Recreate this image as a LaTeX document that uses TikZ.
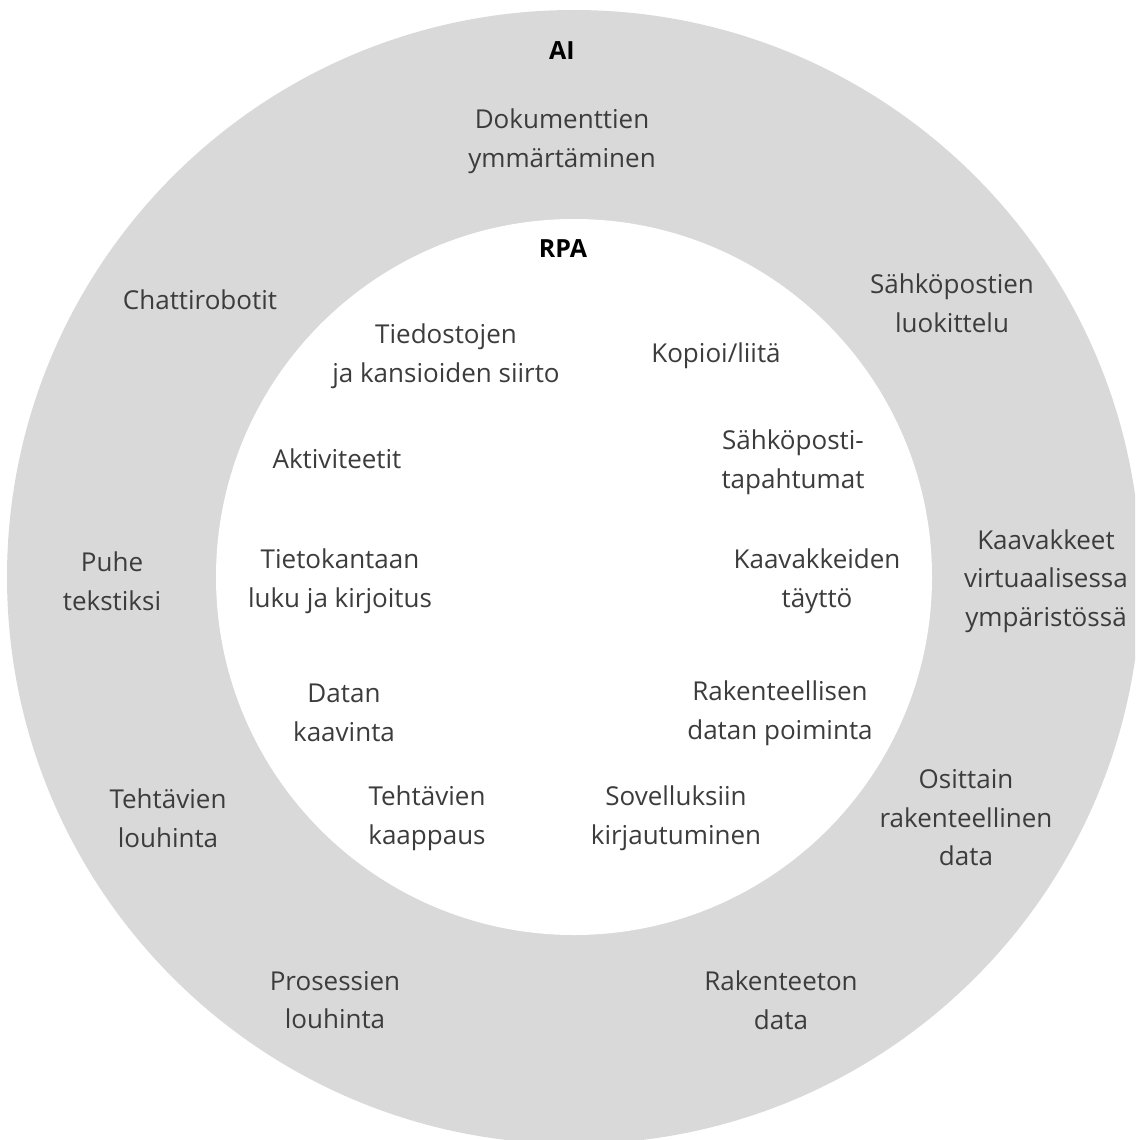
\documentclass[tikz,border=0pt]{standalone}
\usepackage{fontspec}
\setmainfont{Open Sans}
\definecolor{ringgray}{RGB}{217,217,217}
\definecolor{txt}{RGB}{60,60,60}
\begin{document}
\begin{tikzpicture}[x=1pt,y=-1pt,
  lbl/.style={align=center,text=txt,inner sep=0pt,font=\fontsize{26}{38.5}\selectfont},
  ttl/.style={align=center,text=black,inner sep=0pt,font=\fontsize{25}{38}\selectfont\bfseries}]
\useasboundingbox (0,0) rectangle (1135,1140);
\begin{scope}
\clip (0,0) rectangle (1135,1140);
\fill[ringgray] (574,577) circle[radius=567];
\fill[white] (574,577) circle[radius=358];
\end{scope}
\node[ttl] (ai) at (562,51) {AI};
\node[ttl] (rpa) at (563,249) {RPA};
% outer ring
\node[lbl] (dok) at (562,141) {Dokumenttien\\ymmärtäminen};
\node[lbl] (chat) at (200,300) {Chattirobotit};
\node[lbl] (sahk) at (952,303) {Sähköpostien\\luokittelu};
\node[lbl] (puhe) at (112,581) {Puhe\\tekstiksi};
\node[lbl] (kaav) at (1046,581) {Kaavakkeet\\virtuaalisessa\\ympäristössä};
\node[lbl] (tehl) at (168,818) {Tehtävien\\louhinta};
\node[lbl] (osit) at (966,818) {Osittain\\rakenteellinen\\data};
\node[lbl] (pros) at (335,1000) {Prosessien\\louhinta};
\node[lbl] (rake) at (781,1000) {Rakenteeton\\data};
% inner circle
\node[lbl] (tied) at (446,356) {Tiedostojen\\ja kansioiden siirto};
\node[lbl] (kopi) at (716,356) {Kopioi/liitä};
\node[lbl] (akti) at (337,459) {Aktiviteetit};
\node[lbl] (sapt) at (793,462) {Sähköposti-\\tapahtumat};
\node[lbl] (tiet) at (340,581) {Tietokantaan\\luku ja kirjoitus};
\node[lbl] (kayt) at (817,581) {Kaavakkeiden\\täyttö};
\node[lbl] (data) at (344,713) {Datan\\kaavinta};
\node[lbl] (rpoi) at (780,713) {Rakenteellisen\\datan poiminta};
\node[lbl] (teka) at (427,818) {Tehtävien\\kaappaus};
\node[lbl] (sove) at (676,818) {Sovelluksiin\\kirjautuminen};
\end{tikzpicture}
\end{document}
